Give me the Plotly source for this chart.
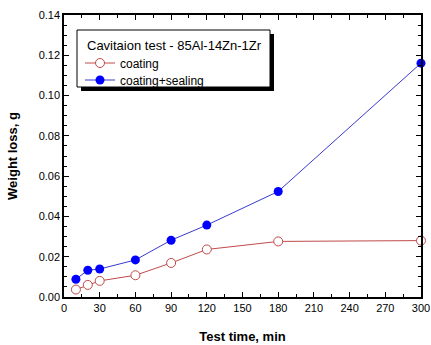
import plotly.graph_objects as go

time_min = [10, 20, 30, 60, 90, 120, 180, 300]
coating = [0.0037, 0.0060, 0.0080, 0.0108, 0.0169, 0.0236, 0.0276, 0.0280]
coating_sealing = [0.0088, 0.0133, 0.0139, 0.0184, 0.0282, 0.0357, 0.0524, 0.1161]

x_ticks = [0, 30, 60, 90, 120, 150, 180, 210, 240, 270, 300]
y_ticks = [0.00, 0.02, 0.04, 0.06, 0.08, 0.10, 0.12, 0.14]

legend_title = "Cavitaion test - 85Al-14Zn-1Zr"

FONT = "Liberation Sans, Arial, sans-serif"
L, R, T, B = 64, 10, 15, 48
W, H = 431, 345
pw, ph = W - L - R, H - T - B

def px_x(p):
    return (p - L) / pw

def px_y(p):
    return (H - B - p) / ph

fig = go.Figure()
fig.add_trace(go.Scatter(
    x=time_min, y=coating, mode="lines+markers", name="coating",
    line=dict(color="#c04a4a", width=1),
    marker=dict(symbol="circle", size=9, color="white", line=dict(width=1, color="#c04a4a")),
    cliponaxis=False, legend="legend",
))
fig.add_trace(go.Scatter(
    x=time_min, y=coating_sealing, mode="lines+markers", name="coating+sealing",
    line=dict(color="#3a3acc", width=1),
    marker=dict(symbol="circle", size=9, color="#0000ff"),
    cliponaxis=False, legend="legend2",
))

axis_common = dict(
    showline=True, linecolor="black", linewidth=1.5, mirror="allticks",
    ticks="inside", ticklen=5, tickwidth=1.2, tickcolor="black",
    showgrid=False, zeroline=False, automargin=False,
    tickfont=dict(family=FONT, size=11, color="black"),
)

fig.update_xaxes(
    range=[0, 300], tickvals=x_ticks, ticktext=[str(v) for v in x_ticks],
    minor=dict(dtick=15, tick0=0, ticks="inside", ticklen=3, tickcolor="black"),
    title=dict(text="<b>Test time, min</b>", font=dict(family=FONT, size=13, color="black"), standoff=19),
    **axis_common,
)
fig.update_yaxes(
    range=[0, 0.14], tickvals=y_ticks, ticktext=["%.2f" % v for v in y_ticks],
    minor=dict(dtick=0.005, tick0=0, ticks="inside", ticklen=3, tickcolor="black"),
    title=dict(text="<b>Weight loss, g</b>", font=dict(family=FONT, size=13, color="black"), standoff=18),
    **axis_common,
)

# legend box with drop shadow
bx0, by0, bx1, by1 = 77, 30, 270, 87
fig.add_shape(type="rect", xref="paper", yref="paper",
              x0=px_x(bx0 + 4), x1=px_x(bx1 + 4), y0=px_y(by1 + 4), y1=px_y(by0 + 4),
              fillcolor="black", line=dict(color="black", width=0), layer="above")
fig.add_shape(type="rect", xref="paper", yref="paper",
              x0=px_x(bx0), x1=px_x(bx1), y0=px_y(by1), y1=px_y(by0),
              fillcolor="white", line=dict(color="black", width=1), layer="above")
fig.add_annotation(
    text=legend_title, xref="paper", yref="paper",
    x=px_x(bx0 + 8), y=px_y(by0 + 15), xanchor="left", yanchor="middle",
    showarrow=False, font=dict(family=FONT, size=13, color="black"),
)

leg_common = dict(
    xanchor="left", yanchor="middle", bgcolor="rgba(0,0,0,0)", borderwidth=0,
    font=dict(family=FONT, size=12, color="black"), itemwidth=30,
)

fig.update_layout(
    width=W, height=H,
    margin=dict(l=L, r=R, t=T, b=B, autoexpand=False),
    paper_bgcolor="white", plot_bgcolor="white",
    font=dict(family=FONT, size=11, color="black"),
    showlegend=True,
    legend=dict(x=px_x(bx0 + 3), y=px_y(by0 + 33), **leg_common),
    legend2=dict(x=px_x(bx0 + 3), y=px_y(by0 + 50), **leg_common),
)

fig.write_html("out.html", config={"displayModeBar": False},
               post_script="document.body.style.margin='0';")
